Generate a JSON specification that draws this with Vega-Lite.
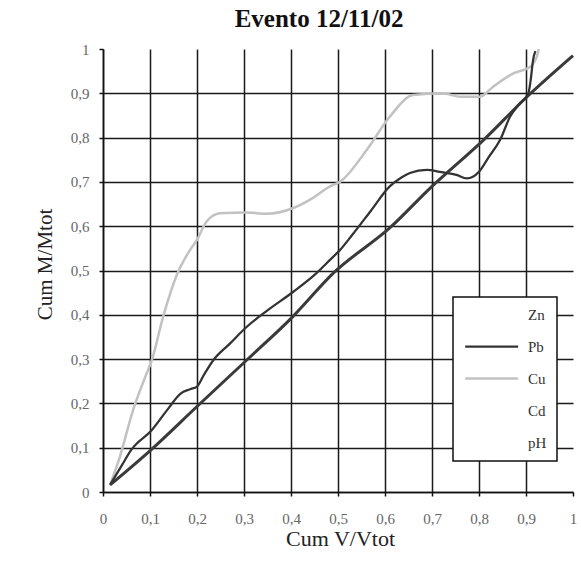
{
  "$schema": "https://vega.github.io/schema/vega-lite/v6.json",
  "width": 470,
  "height": 443,
  "autosize": "none",
  "padding": {"left": 103, "top": 49, "right": 8, "bottom": 71},
  "background": "white",
  "title": {"text": "Evento 12/11/02", "font": "Liberation Serif", "fontSize": 25, "fontWeight": "bold", "color": "#111", "anchor": "middle", "dx": -19, "offset": 10},
  "config": {
    "view": {"stroke": null},
    "legend": {"strokeWidth": 1.5}
  },
  "encoding": {
    "x": {
      "field": "x", "type": "quantitative",
      "scale": {"domain": [0, 1], "nice": false, "zero": false},
      "axis": {
        "values": [0, 0.1, 0.2, 0.3, 0.4, 0.5, 0.6, 0.7, 0.8, 0.9, 1],
        "labelExpr": "datum.value == 0 ? '0' : datum.value == 1 ? '1' : replace(format(datum.value, '.1f'), '.', ',')",
        "title": "Cum V/Vtot",
        "grid": true, "gridColor": "#1a1a1a", "gridWidth": 1.5,
        "gridOpacity": {"condition": {"test": "datum.value == 1", "value": 0}, "value": 1},
        "domainColor": "#111", "domainWidth": 1.6,
        "tickColor": "#111", "tickSize": 4, "tickWidth": 1.5,
        "labelFont": "Liberation Serif", "labelFontSize": 15, "labelColor": "#666",
        "labelPadding": 15, "labelFlush": false,
        "titleFont": "Liberation Serif", "titleFontSize": 22, "titleFontWeight": "normal", "titleColor": "#222",
        "titleX": 237, "titleY": 53, "titleBaseline": "alphabetic", "titleAlign": "center"
      }
    },
    "y": {
      "field": "y", "type": "quantitative",
      "scale": {"domain": [0, 1], "nice": false, "zero": false},
      "axis": {
        "values": [0, 0.1, 0.2, 0.3, 0.4, 0.5, 0.6, 0.7, 0.8, 0.9, 1],
        "labelExpr": "datum.value == 0 ? '0' : datum.value == 1 ? '1' : replace(format(datum.value, '.1f'), '.', ',')",
        "title": "Cum M/Mtot",
        "grid": true, "gridColor": "#1a1a1a", "gridWidth": 1.5,
        "gridOpacity": {"condition": {"test": "datum.value == 1", "value": 0}, "value": 1},
        "domainColor": "#111", "domainWidth": 1.6,
        "tickColor": "#111", "tickSize": 4, "tickWidth": 1.5,
        "labelFont": "Liberation Serif", "labelFontSize": 15, "labelColor": "#666",
        "labelPadding": 10, "labelFlush": false,
        "titleFont": "Liberation Serif", "titleFontSize": 21, "titleFontWeight": "normal", "titleColor": "#222",
        "titleAngle": -90, "titleX": -58, "titleY": 215, "titleAlign": "center", "titleBaseline": "middle"
      }
    }
  },
  "layer": [
    {
      "data": {"values": [
        {"x": 0.015, "y": 0.016}, {"x": 0.104, "y": 0.097}, {"x": 0.2, "y": 0.193},
        {"x": 0.306, "y": 0.298}, {"x": 0.404, "y": 0.396}, {"x": 0.49, "y": 0.494},
        {"x": 0.61, "y": 0.596}, {"x": 0.7, "y": 0.69}, {"x": 0.81, "y": 0.795},
        {"x": 0.9, "y": 0.89}, {"x": 1.0, "y": 0.985}
      ]},
      "mark": {"type": "line", "color": "#3a3a3a", "strokeWidth": 3, "interpolate": "monotone"}
    },
    {
      "data": {"values": [
        {"serie": "Cu", "x": 0.015, "y": 0.016}, {"serie": "Cu", "x": 0.036, "y": 0.08},
        {"serie": "Cu", "x": 0.064, "y": 0.185}, {"serie": "Cu", "x": 0.09, "y": 0.26},
        {"serie": "Cu", "x": 0.104, "y": 0.298}, {"serie": "Cu", "x": 0.128, "y": 0.396},
        {"serie": "Cu", "x": 0.157, "y": 0.49}, {"serie": "Cu", "x": 0.185, "y": 0.546},
        {"serie": "Cu", "x": 0.2, "y": 0.569}, {"serie": "Cu", "x": 0.22, "y": 0.61},
        {"serie": "Cu", "x": 0.249, "y": 0.629}, {"serie": "Cu", "x": 0.306, "y": 0.631},
        {"serie": "Cu", "x": 0.348, "y": 0.628}, {"serie": "Cu", "x": 0.405, "y": 0.641},
        {"serie": "Cu", "x": 0.447, "y": 0.664}, {"serie": "Cu", "x": 0.483, "y": 0.69},
        {"serie": "Cu", "x": 0.504, "y": 0.7}, {"serie": "Cu", "x": 0.561, "y": 0.772},
        {"serie": "Cu", "x": 0.61, "y": 0.847}, {"serie": "Cu", "x": 0.66, "y": 0.896},
        {"serie": "Cu", "x": 0.724, "y": 0.9}, {"serie": "Cu", "x": 0.76, "y": 0.892},
        {"serie": "Cu", "x": 0.802, "y": 0.892}, {"serie": "Cu", "x": 0.83, "y": 0.915},
        {"serie": "Cu", "x": 0.873, "y": 0.945}, {"serie": "Cu", "x": 0.909, "y": 0.96},
        {"serie": "Cu", "x": 0.923, "y": 0.983}, {"serie": "Cu", "x": 0.927, "y": 1.0},
        {"serie": "Pb", "x": 0.015, "y": 0.016}, {"serie": "Pb", "x": 0.04, "y": 0.06},
        {"serie": "Pb", "x": 0.06, "y": 0.095}, {"serie": "Pb", "x": 0.104, "y": 0.14},
        {"serie": "Pb", "x": 0.14, "y": 0.19}, {"serie": "Pb", "x": 0.165, "y": 0.222},
        {"serie": "Pb", "x": 0.185, "y": 0.232}, {"serie": "Pb", "x": 0.2, "y": 0.238},
        {"serie": "Pb", "x": 0.215, "y": 0.265}, {"serie": "Pb", "x": 0.235, "y": 0.298},
        {"serie": "Pb", "x": 0.27, "y": 0.335}, {"serie": "Pb", "x": 0.306, "y": 0.373},
        {"serie": "Pb", "x": 0.35, "y": 0.41}, {"serie": "Pb", "x": 0.405, "y": 0.452},
        {"serie": "Pb", "x": 0.45, "y": 0.49}, {"serie": "Pb", "x": 0.483, "y": 0.524},
        {"serie": "Pb", "x": 0.504, "y": 0.546}, {"serie": "Pb", "x": 0.53, "y": 0.58},
        {"serie": "Pb", "x": 0.57, "y": 0.635}, {"serie": "Pb", "x": 0.61, "y": 0.69},
        {"serie": "Pb", "x": 0.635, "y": 0.71}, {"serie": "Pb", "x": 0.653, "y": 0.72},
        {"serie": "Pb", "x": 0.689, "y": 0.727}, {"serie": "Pb", "x": 0.72, "y": 0.722},
        {"serie": "Pb", "x": 0.752, "y": 0.716}, {"serie": "Pb", "x": 0.774, "y": 0.708},
        {"serie": "Pb", "x": 0.8, "y": 0.723}, {"serie": "Pb", "x": 0.82, "y": 0.755},
        {"serie": "Pb", "x": 0.845, "y": 0.795}, {"serie": "Pb", "x": 0.866, "y": 0.847},
        {"serie": "Pb", "x": 0.885, "y": 0.875}, {"serie": "Pb", "x": 0.905, "y": 0.9},
        {"serie": "Pb", "x": 0.91, "y": 0.93}, {"serie": "Pb", "x": 0.915, "y": 0.975},
        {"serie": "Pb", "x": 0.92, "y": 0.995}
      ]},
      "mark": {"type": "line", "interpolate": "monotone"},
      "encoding": {
        "color": {
          "field": "serie", "type": "nominal",
          "scale": {"domain": ["Zn", "Pb", "Cu", "Cd", "pH"], "range": ["#ffffff", "#333333", "#c2c2c2", "#ffffff", "#ffffff"]},
          "legend": {
            "title": null, "orient": "none", "legendX": 350, "legendY": 248,
            "fillColor": "white", "strokeColor": "#111", "padding": 10,
            "symbolType": "M-1,0H9", "symbolSize": 112, "symbolStrokeWidth": 3,
            "labelFont": "Liberation Serif", "labelFontSize": 15, "labelColor": "#333",
            "labelOffset": 50, "rowPadding": 16
          }
        },
        "strokeWidth": {
          "field": "serie", "type": "nominal",
          "scale": {"domain": ["Zn", "Pb", "Cu", "Cd", "pH"], "range": [2, 3, 2, 2, 2]},
          "legend": null
        }
      }
    }
  ]
}
